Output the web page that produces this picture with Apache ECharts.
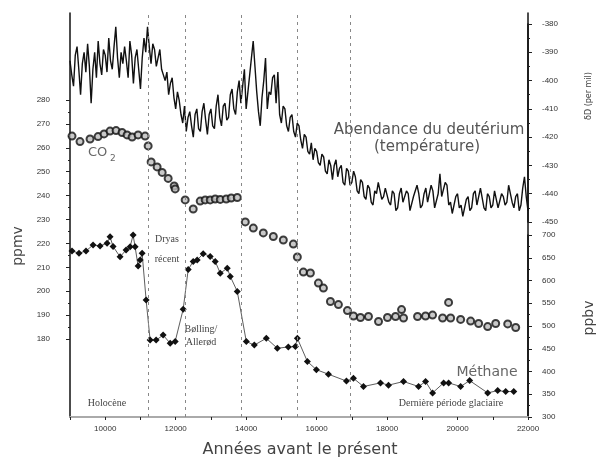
<!DOCTYPE html>
<html><head><meta charset="utf-8">
<script src="https://cdn.jsdelivr.net/npm/echarts@6/dist/echarts.min.js"></script>
<style>html,body{margin:0;padding:0;background:#fff}#c{width:597px;height:459px}</style>
</head><body><div id="c"></div>
<script>
// ---- data ----
const yearMin = 9000, yearMax = 22000;
const eventYears = [11220, 12270, 13860, 15450, 16960];

const co2Years = [9057,9284,9569,9796,9967,10137,10308,10478,10620,10763,10933,11132,11218,11303,11473,11616,11786,11957,11985,12269,12497,12696,12838,12980,13122,13265,13435,13577,13748,
  13975,14203,14487,14771,15055,15340,15453,15624,15823,16051,16193,16392,16619,16875,17046,17245,17472,17757,18012,18240,18411,18467,18865,19092,19291,19576,19746,19803,20088,20372,20599,20855,21083,21424,21651];
const co2Values = [264.9,262.6,263.7,264.7,265.8,267.0,267.2,266.4,265.4,264.5,265.4,264.9,260.8,254.1,252.0,249.7,247.2,244.0,242.8,238.2,234.4,237.7,238.2,238.2,238.6,238.4,238.6,239.0,239.2,
  229.0,226.4,224.4,222.9,221.4,219.7,214.3,208.0,207.6,203.4,201.3,195.7,194.4,191.9,189.6,189.0,189.4,187.3,189.0,189.4,192.3,188.8,189.4,189.6,190.0,188.8,195.3,188.8,188.2,187.5,186.5,185.2,186.5,186.3,184.8];

const ch4Years = [9057,9256,9455,9654,9853,10052,10137,10222,10421,10592,10706,10791,10848,10933,10990,11047,11161,11274,11445,11644,11843,11985,12213,12355,12497,12611,12781,12980,13122,13265,13463,13549,13748,
  14004,14231,14572,14885,15197,15397,15453,15738,15994,16335,16847,17046,17330,17813,18041,18467,18894,19093,19292,19605,19747,20088,20344,20855,21140,21367,21595];
const ch4Values = [665,660,665,678,676,682,696,675,652,667,674,700,674,632,645,660,557,469,469,480,462,466,537,624,642,645,659,653,642,616,627,609,576,
  466,458,473,451,454,455,473,422,404,394,379,385,367,375,370,378,367,378,353,375,375,367,380,353,358,356,356];

// deuterium, one value every 50 years from 9000 to 22000 (one row = 1000 years)
const dDStep = 50;
const dDValues = [
  -393,-398,-402,-391,-388,-396,-405,-394,-390,-397,-387,-395,-408,-396,-390,-399,-386,-394,-398,-389,
  -391,-397,-385,-393,-396,-388,-381,-392,-399,-390,-394,-388,-393,-399,-386,-391,-401,-392,-389,-396,
  -403,-392,-385,-390,-381,-388,-394,-387,-389,-395,-392,-389,-396,-398,-400,-397,-405,-401,-399,-406,
  -410,-404,-407,-412,-415,-409,-418,-413,-411,-416,-420,-412,-410,-417,-418,-411,-408,-414,-419,-412,
  -410,-416,-417,-409,-405,-413,-416,-409,-408,-414,-413,-405,-403,-410,-412,-404,-400,-408,-402,-396,
  -410,-404,-398,-392,-386,-395,-404,-411,-416,-406,-400,-392,-410,-404,-405,-399,-398,-408,-397,-412,
  -415,-409,-410,-416,-418,-413,-412,-418,-420,-415,-416,-421,-424,-419,-420,-425,-426,-422,-428,-424,
  -425,-429,-430,-426,-427,-432,-433,-428,-430,-435,-430,-428,-434,-431,-430,-436,-437,-431,-432,-437,
  -436,-432,-434,-439,-440,-435,-436,-441,-442,-437,-438,-443,-444,-439,-440,-436,-436,-442,-441,-438,
  -438,-443,-444,-439,-440,-446,-445,-440,-438,-443,-443,-439,-440,-446,-446,-441,-441,-437,-440,-445,
  -444,-440,-438,-443,-443,-437,-439,-445,-445,-440,-433,-441,-441,-436,-437,-444,-443,-447,-447,-441,
  -440,-445,-444,-448,-448,-442,-441,-446,-445,-440,-439,-444,-444,-438,-438,-445,-446,-440,-441,-445,
  -444,-439,-439,-445,-445,-440,-441,-444,-443,-437,-437,-443,-445,-441,-440,-446,-444,-438,-434,-441,
  -446];

const co2Ticks = {min:180, max:280, interval:10};
const dDTicks = {min:-450, max:-380, interval:10};
const ch4Ticks = {min:300, max:700, interval:50};

// ---- chart ----
const chart = echarts.init(document.getElementById('c'), null, {renderer:'canvas'});
const labFont = {fontSize:8, color:'#333', fontFamily:'Liberation Sans'};
const blackLine = {show:true, lineStyle:{color:'#111', width:1.5}};
const hiddenX = (g) => ({gridIndex:g, type:'value', min:yearMin, max:yearMax, show:false});

const option = {
  animation:false,
  backgroundColor:'#fff',
  grid:[
    {left:70, top:13, width:458, height:404},
    {left:70, top:100, width:458, height:239},
    {left:70, top:24, width:458, height:198},
    {left:70, top:235, width:458, height:182}
  ],
  xAxis:[
    {gridIndex:0, type:'value', min:yearMin, max:yearMax, interval:1000, position:'bottom',
     axisLine:blackLine, axisTick:{show:true, length:3, lineStyle:{color:'#222'}},
     axisLabel:Object.assign({margin:8, formatter:v => (v % 2000 === 0 ? String(v) : '')}, labFont),
     splitLine:{show:false}},
    {gridIndex:0, type:'value', min:yearMin, max:yearMax, position:'top',
     axisLine:{show:true, lineStyle:{color:'#aaa', width:2}}, axisTick:{show:false}, axisLabel:{show:false}, splitLine:{show:false}},
    hiddenX(1), hiddenX(2), hiddenX(3)
  ],
  yAxis:[
    {gridIndex:0, type:'value', min:0, max:1, position:'left', axisLine:blackLine, axisTick:{show:false}, axisLabel:{show:false}, splitLine:{show:false}},
    {gridIndex:0, type:'value', min:0, max:1, position:'right', axisLine:blackLine, axisTick:{show:false}, axisLabel:{show:false}, splitLine:{show:false}},
    {gridIndex:1, type:'value', position:'left', min:co2Ticks.min, max:co2Ticks.max, interval:co2Ticks.interval,
     axisLine:{show:false}, axisTick:{show:true, length:4, lineStyle:{color:'#222'}},
     minorTick:{show:true, splitNumber:2, length:2, lineStyle:{color:'#222'}},
     axisLabel:Object.assign({margin:20}, labFont), splitLine:{show:false}},
    {gridIndex:2, type:'value', position:'right', min:dDTicks.min, max:dDTicks.max, interval:dDTicks.interval,
     axisLine:blackLine, axisTick:{show:true, length:4, lineStyle:{color:'#222'}},
     minorTick:{show:true, splitNumber:2, length:2, lineStyle:{color:'#222'}},
     axisLabel:Object.assign({margin:14}, labFont), splitLine:{show:false}},
    {gridIndex:3, type:'value', position:'right', min:ch4Ticks.min, max:ch4Ticks.max, interval:ch4Ticks.interval,
     axisLine:blackLine, axisTick:{show:true, length:4, lineStyle:{color:'#222'}},
     minorTick:{show:true, splitNumber:2, length:2, lineStyle:{color:'#222'}},
     axisLabel:Object.assign({margin:14}, labFont), splitLine:{show:false}}
  ],
  series:[
    {type:'line', xAxisIndex:0, yAxisIndex:0, data:[], silent:true,
     markLine:{symbol:['none','none'], silent:true, label:{show:false},
       lineStyle:{color:'#888', type:[3,4], width:1},
       data:eventYears.map(y => ({xAxis:y}))}},
    {type:'line', xAxisIndex:3, yAxisIndex:3, showSymbol:false, symbol:'none',
     data:dDValues.map((v,i) => [yearMin + i*dDStep, v]),
     lineStyle:{color:'#111', width:1.4}},
    {type:'line', xAxisIndex:4, yAxisIndex:4, symbol:'diamond', symbolSize:7,
     itemStyle:{color:'#111'}, lineStyle:{color:'#333', width:0.8},
     data:ch4Years.map((y,i) => [y, ch4Values[i]])},
    {type:'scatter', xAxisIndex:2, yAxisIndex:2, symbol:'circle', symbolSize:7,
     itemStyle:{color:'#bbb', borderColor:'#111', borderWidth:2},
     data:co2Years.map((y,i) => [y, co2Values[i]])}
  ],
  graphic:[
    {type:'text', x:88, y:153, style:{text:'CO', font:'13px DejaVu Sans', fill:'#666', align:'left', verticalAlign:'middle'}},
    {type:'text', x:110, y:159, style:{text:'2', font:'9px DejaVu Sans', fill:'#666', align:'left', verticalAlign:'middle'}},
    {type:'text', x:429, y:130, style:{text:'Abendance du deutérium', font:'15px DejaVu Sans', fill:'#555', align:'center', verticalAlign:'middle'}},
    {type:'text', x:427, y:147, style:{text:'(température)', font:'15px DejaVu Sans', fill:'#555', align:'center', verticalAlign:'middle'}},
    {type:'text', x:167, y:239, style:{text:'Dryas', font:'10px Liberation Serif', fill:'#444', align:'center', verticalAlign:'middle'}},
    {type:'text', x:167, y:259, style:{text:'récent', font:'10px Liberation Serif', fill:'#444', align:'center', verticalAlign:'middle'}},
    {type:'text', x:201, y:329, style:{text:'Bølling/', font:'10px Liberation Serif', fill:'#444', align:'center', verticalAlign:'middle'}},
    {type:'text', x:201, y:342, style:{text:'Allerød', font:'10px Liberation Serif', fill:'#444', align:'center', verticalAlign:'middle'}},
    {type:'text', x:107, y:403, style:{text:'Holocène', font:'10px Liberation Serif', fill:'#444', align:'center', verticalAlign:'middle'}},
    {type:'text', x:451, y:403, style:{text:'Dernière période glaciaire', font:'10px Liberation Serif', fill:'#444', align:'center', verticalAlign:'middle'}},
    {type:'text', x:487, y:372, style:{text:'Méthane', font:'14px DejaVu Sans', fill:'#666', align:'center', verticalAlign:'middle'}},
    {type:'text', x:300, y:450, style:{text:'Années avant le présent', font:'16px DejaVu Sans', fill:'#444', align:'center', verticalAlign:'middle'}},
    {type:'text', x:18, y:246, rotation:Math.PI/2, style:{text:'ppmv', font:'14px DejaVu Sans', fill:'#444', align:'center', verticalAlign:'middle'}},
    {type:'text', x:589, y:318, rotation:Math.PI/2, style:{text:'ppbv', font:'14px DejaVu Sans', fill:'#444', align:'center', verticalAlign:'middle'}},
    {type:'text', x:589, y:96, rotation:Math.PI/2, style:{text:'δD (per mil)', font:'8px DejaVu Sans', fill:'#444', align:'center', verticalAlign:'middle'}}
  ]
};
chart.setOption(option);
</script></body></html>
